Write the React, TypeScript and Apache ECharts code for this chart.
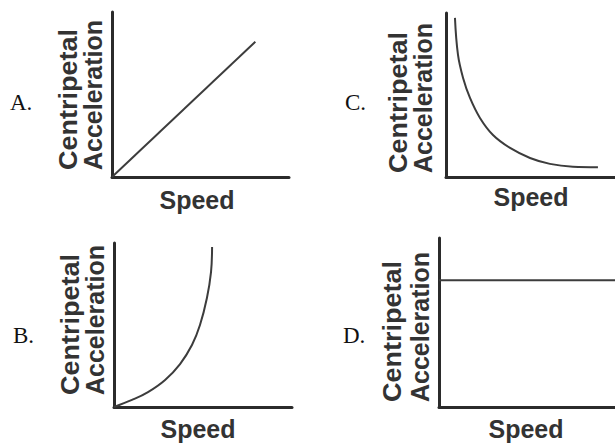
import React, { useEffect, useRef } from "react";
import * as echarts from "echarts";

// Panel letters and axis titles
const panelLetters = ["A.", "B.", "C.", "D."];
const yTitleLine1 = "Centripetal";
const yTitleLine2 = "Acceleration";
const xTitle = "Speed";

// Series values (normalised units, axes run 0..100)
const seriesA: [number, number][] = [
  [0, 0],
  [81, 82],
];
const seriesB: [number, number][] = [
  [0, 0],
  [10.1, 4.3],
  [19.1, 9.1],
  [28.7, 16.5],
  [37.1, 26.2],
  [43.8, 37.8],
  [48.3, 50],
  [52.2, 66.5],
  [54.5, 82.3],
  [55.1, 97.6],
];
const seriesC: [number, number][] = [
  [5.3, 97],
  [7.1, 74.4],
  [10.1, 60.4],
  [14.2, 48.2],
  [20.1, 36],
  [27.8, 25.6],
  [37.9, 17.7],
  [49.7, 11.6],
  [61.5, 8.0],
  [75.1, 6.3],
  [89.9, 6.0],
];
const seriesD: [number, number][] = [
  [0, 75],
  [100, 75],
];

const AXIS_COLOR = "#2b2b2b";
const LINE_COLOR = "#3c3c3c";
const SANS = '"Liberation Sans", Arial, sans-serif';
const SERIF = '"Liberation Serif", "Times New Roman", serif';

export default function App() {
  const ref = useRef<HTMLDivElement>(null);
  useEffect(() => {
    if (!ref.current) return;
    const chart = echarts.init(ref.current, null, { renderer: "svg" });

    const grids = [
      { left: 112, top: 12, width: 177, height: 165 },
      { left: 114, top: 243, width: 178, height: 164 },
      { left: 446, top: 13, width: 169, height: 164 },
      { left: 439, top: 238, width: 176, height: 169 },
    ];
    const data = [seriesA, seriesB, seriesC, seriesD];
    const smooth = [false, true, true, false];

    const axisBase = {
      type: "value" as const,
      min: 0,
      max: 100,
      axisLine: { show: true, lineStyle: { color: AXIS_COLOR, width: 3 } },
      axisTick: { show: false },
      axisLabel: { show: false },
      splitLine: { show: false },
    };

    const layout = [
      { lx: 10, ly: 102, c1: 68, c2: 93, by: 170, sx: 197, sy: 200 },
      { lx: 13, ly: 335, c1: 70, c2: 95, by: 395, sx: 198, sy: 429 },
      { lx: 345, ly: 102, c1: 398, c2: 423, by: 173, sx: 531, sy: 197 },
      { lx: 343, ly: 335, c1: 392, c2: 420, by: 402, sx: 526, sy: 429 },
    ];

    const graphics: any[] = [];
    layout.forEach((l, i) => {
      graphics.push({
        type: "text",
        x: l.lx,
        y: l.ly,
        style: {
          text: panelLetters[i],
          font: `23px ${SERIF}`,
          fill: "#111",
          align: "left",
          verticalAlign: "middle",
        },
      });
      graphics.push({
        type: "text",
        x: l.c1,
        y: l.by,
        rotation: Math.PI / 2,
        scaleX: 1.08,
        style: {
          text: yTitleLine1,
          font: `bold 25px ${SANS}`,
          fill: "#333",
          align: "left",
          verticalAlign: "middle",
        },
      });
      graphics.push({
        type: "text",
        x: l.c2,
        y: l.by,
        rotation: Math.PI / 2,
        style: {
          text: yTitleLine2,
          font: `bold 25px ${SANS}`,
          fill: "#333",
          align: "left",
          verticalAlign: "middle",
        },
      });
      graphics.push({
        type: "text",
        x: l.sx,
        y: l.sy,
        style: {
          text: xTitle,
          font: `bold 25px ${SANS}`,
          fill: "#333",
          align: "center",
          verticalAlign: "middle",
        },
      });
    });

    chart.setOption({
      animation: false,
      backgroundColor: "#ffffff",
      grid: grids,
      xAxis: grids.map((_, i) => ({ ...axisBase, gridIndex: i })),
      yAxis: grids.map((_, i) => ({ ...axisBase, gridIndex: i })),
      series: data.map((d, i) => ({
        type: "line",
        xAxisIndex: i,
        yAxisIndex: i,
        data: d,
        smooth: smooth[i] ? 0.4 : false,
        showSymbol: false,
        symbol: "none",
        lineStyle: { color: LINE_COLOR, width: 2 },
      })),
      graphic: graphics,
    });

    return () => chart.dispose();
  }, []);

  return (
    <div
      ref={ref}
      style={{ position: "fixed", left: 0, top: 0, width: 615, height: 443 }}
    />
  );
}
